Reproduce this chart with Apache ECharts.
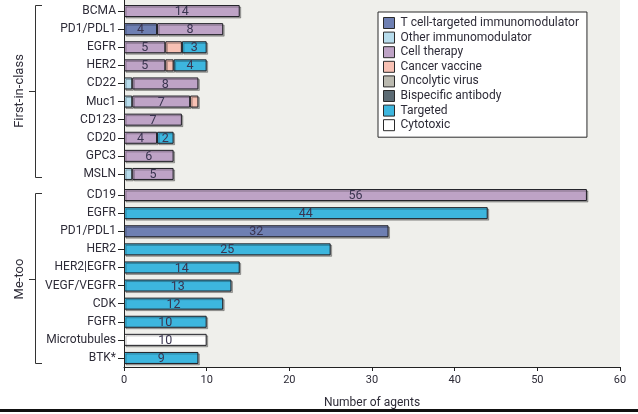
<!DOCTYPE html>
<html>
<head>
<meta charset="utf-8">
<script src="https://cdn.jsdelivr.net/npm/echarts@6/dist/echarts.min.js"></script>
<style>
  html, body { margin: 0; padding: 0; background: #ffffff; }
  #chart { width: 638px; height: 414px; }
</style>
</head>
<body>
<div id="chart"></div>
<script>
// First-in-class targets (top block)
const firstCategories = ['BCMA', 'PD1/PDL1', 'EGFR', 'HER2', 'CD22', 'Muc1', 'CD123', 'CD20', 'GPC3', 'MSLN'];
const firstTcell    = [null, 4, null, null, null, null, null, null, null, null];
const firstOther    = [null, null, null, null, 1, 1, null, null, null, 1];
const firstCell     = [14, 8, 5, 5, 8, 7, 7, 4, 6, 5];
const firstVaccine  = [null, null, 2, 1, null, 1, null, null, null, null];
const firstTargeted = [null, null, 3, 4, null, null, null, 2, null, null];

// Me-too targets (bottom block)
const metooCategories = ['CD19', 'EGFR', 'PD1/PDL1', 'HER2', 'HER2|EGFR', 'VEGF/VEGFR', 'CDK', 'FGFR', 'Microtubules', 'BTK*'];
const metooTcell     = [null, null, 32, null, null, null, null, null, null, null];
const metooCell      = [56, null, null, null, null, null, null, null, null, null];
const metooTargeted  = [null, 44, null, 25, 14, 13, 12, 10, null, 9];
const metooCytotoxic = [null, null, null, null, null, null, null, null, 10, null];

const xTicks = [0, 10, 20, 30, 40, 50, 60];

const legendNames = ['T cell-targeted immunomodulator', 'Other immunomodulator', 'Cell therapy',
  'Cancer vaccine', 'Oncolytic virus', 'Bispecific antibody', 'Targeted', 'Cytotoxic'];
const colors = {
  'T cell-targeted immunomodulator': '#6e7fb2',
  'Other immunomodulator': '#b7dcec',
  'Cell therapy': '#bea3c6',
  'Cancer vaccine': '#f8c1b4',
  'Oncolytic virus': '#bab9af',
  'Bispecific antibody': '#5c6b74',
  'Targeted': '#3db6de',
  'Cytotoxic': '#ffffff'
};
const labelled = {
  'T cell-targeted immunomodulator': true, 'Cell therapy': true, 'Targeted': true, 'Cytotoxic': true
};

const FONT = 'Roboto';
const TEXT = '#2e2c38';

function bar(name, data, gridIdx) {
  return {
    type: 'bar',
    name: name,
    data: data,
    xAxisIndex: gridIdx,
    yAxisIndex: gridIdx,
    stack: 'g' + gridIdx,
    barWidth: 12,
    z: 3,
    itemStyle: {
      color: colors[name],
      borderColor: '#1e1e24',
      borderWidth: 1,
      shadowColor: 'rgba(0,0,0,0.28)',
      shadowOffsetX: 1.5,
      shadowOffsetY: 1.5,
      shadowBlur: 0
    },
    label: {
      show: !!labelled[name],
      position: 'inside',
      offset: [0, 1],
      fontFamily: FONT,
      fontSize: 12.5,
      color: '#3a3550',
      formatter: p => (p.value == null ? '' : String(p.value))
    },
    emphasis: { disabled: true },
    animation: false
  };
}

const series = [
  bar('T cell-targeted immunomodulator', firstTcell, 0),
  bar('Other immunomodulator', firstOther, 0),
  bar('Cell therapy', firstCell, 0),
  bar('Cancer vaccine', firstVaccine, 0),
  bar('Oncolytic virus', [], 0),
  bar('Bispecific antibody', [], 0),
  bar('Targeted', firstTargeted, 0),
  bar('T cell-targeted immunomodulator', metooTcell, 1),
  bar('Cell therapy', metooCell, 1),
  bar('Targeted', metooTargeted, 1),
  bar('Cytotoxic', metooCytotoxic, 1)
];

function catAxis(gridIdx, cats) {
  return {
    type: 'category',
    gridIndex: gridIdx,
    data: cats,
    inverse: true,
    axisLine: { show: false },
    axisTick: { show: true, alignWithLabel: true, length: 6, lineStyle: { color: '#222', width: 1 } },
    axisLabel: { fontFamily: FONT, fontSize: 12, color: TEXT, margin: 8 }
  };
}

function valAxis(gridIdx, visible) {
  return {
    type: 'value',
    gridIndex: gridIdx,
    min: xTicks[0],
    max: xTicks[xTicks.length - 1],
    interval: xTicks[1] - xTicks[0],
    splitLine: { show: false },
    axisLine: { show: visible, lineStyle: { color: '#222', width: 1 } },
    axisTick: { show: visible, length: 4, lineStyle: { color: '#222' } },
    axisLabel: { show: visible, fontFamily: FONT, fontSize: 11, color: TEXT, margin: 8 },
    name: visible ? 'Number of agents' : '',
    nameLocation: 'middle',
    nameGap: 30,
    nameTextStyle: { fontFamily: FONT, fontSize: 12, color: TEXT }
  };
}

const chart = echarts.init(document.getElementById('chart'), null, { renderer: 'canvas' });

chart.setOption({
  animation: false,
  backgroundColor: '#ffffff',
  grid: [
    { left: 124, right: 18, top: 2, height: 181 },
    { left: 124, right: 18, top: 186, height: 181 }
  ],
  xAxis: [valAxis(0, false), valAxis(1, true)],
  yAxis: [catAxis(0, firstCategories), catAxis(1, metooCategories)],
  legend: {
    data: legendNames,
    orient: 'vertical',
    left: 378,
    top: 12,
    padding: [5, 8, 6, 5],
    backgroundColor: '#ffffff',
    borderColor: '#2a2a2a',
    borderWidth: 1,
    itemWidth: 11,
    itemHeight: 11,
    itemGap: 2.6,
    icon: 'rect',
    selectedMode: false,
    itemStyle: { shadowBlur: 0, shadowOffsetX: 0, shadowOffsetY: 0, borderColor: '#2a2a2a', borderWidth: 1 },
    textStyle: { fontFamily: FONT, fontSize: 12, color: TEXT, padding: [0, 0, 0, 1], lineHeight: 12 }
  },
  graphic: [
    // plot background
    { type: 'rect', z: -10, silent: true,
      shape: { x: 124, y: 0, width: 496, height: 367 },
      style: { fill: '#efefeb' } },
    // continuous vertical axis line
    { type: 'line', z: 10, silent: true,
      shape: { x1: 124.5, y1: 0, x2: 124.5, y2: 367 },
      style: { stroke: '#222', lineWidth: 1 } },
    // group brackets
    { type: 'polyline', silent: true,
      shape: { points: [[42, 5.5], [35.5, 5.5], [35.5, 177.5], [42, 177.5]] },
      style: { stroke: '#333', lineWidth: 1, fill: null } },
    { type: 'line', silent: true,
      shape: { x1: 29, y1: 91.5, x2: 35.5, y2: 91.5 },
      style: { stroke: '#333', lineWidth: 1 } },
    { type: 'polyline', silent: true,
      shape: { points: [[42, 193.5], [35.5, 193.5], [35.5, 363.5], [42, 363.5]] },
      style: { stroke: '#333', lineWidth: 1, fill: null } },
    { type: 'line', silent: true,
      shape: { x1: 29, y1: 279.5, x2: 35.5, y2: 279.5 },
      style: { stroke: '#333', lineWidth: 1 } },
    { type: 'text', silent: true, x: 20, y: 91, rotation: Math.PI / 2,
      style: { text: 'First-in-class', fontFamily: FONT, fontSize: 13, fill: TEXT,
               align: 'center', verticalAlign: 'middle' } },
    { type: 'text', silent: true, x: 20, y: 279, rotation: Math.PI / 2,
      style: { text: 'Me-too', fontFamily: FONT, fontSize: 13, fill: TEXT,
               align: 'center', verticalAlign: 'middle' } },
    // bottom rule
    { type: 'rect', silent: true,
      shape: { x: 0, y: 409, width: 638, height: 3 },
      style: { fill: '#111' } }
  ],
  series: series
});
</script>
</body>
</html>
